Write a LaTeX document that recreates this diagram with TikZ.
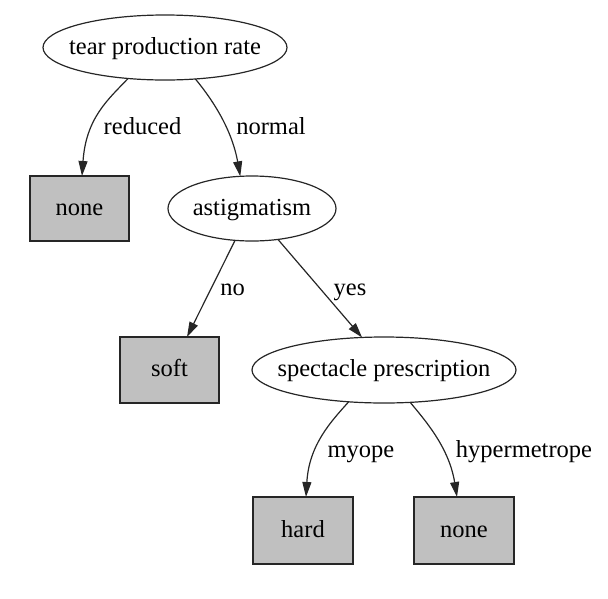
\documentclass[tikz,border=0pt]{standalone}
\usepackage{fontspec}
\setmainfont{Liberation Serif}
\usetikzlibrary{shapes.geometric,arrows.meta}
\definecolor{leafgray}{HTML}{C0C0C0}
\definecolor{edgeblack}{HTML}{262626}
\begin{document}
\begin{tikzpicture}[x=1pt,y=-1pt,
  every node/.style={font=\fontsize{24.5}{29}\selectfont, inner sep=0pt, outer sep=0pt},
  attr/.style={ellipse, draw=edgeblack, line width=1.2pt},
  attrtext/.style={text height=17pt, text depth=4pt},
  leaf/.style={rectangle, draw=edgeblack, fill=leafgray, line width=1.2pt, text height=17pt, text depth=4pt},
  edge/.style={draw=edgeblack, line width=1.2pt, -{Triangle[length=15pt,width=9pt]}},
  elabel/.style={anchor=base}
]
\useasboundingbox (0,0) rectangle (608,598);

\node[attr, minimum width=244pt, minimum height=65pt] (tpr) at (165,47.5) {};
\node[attrtext] (tprt) at (tpr.center) {tear production rate};
\node[leaf, minimum width=99pt, minimum height=65pt] (none1) at (79.5,208.5) {none};
\node[attr, minimum width=168pt, minimum height=65pt] (ast) at (252,208.5) {};
\node[attrtext] (astt) at (ast.center) {astigmatism};
\node[leaf, minimum width=99pt, minimum height=66pt] (soft) at (169.5,370) {soft};
\node[attr, minimum width=264pt, minimum height=66pt] (spec) at (384,370) {};
\node[attrtext] (spect) at (spec.center) {spectacle prescription};
\node[leaf, minimum width=100pt, minimum height=67pt] (hard) at (303,530.5) {hard};
\node[leaf, minimum width=100pt, minimum height=67pt] (none2) at (464,530.5) {none};

\path[edge] (tpr.220) .. controls +(-20,21) and +(4,-58) .. ([xshift=2.5pt]none1.north);
\path[edge] (tpr.-46) .. controls +(14,17) and +(-9,-50) .. (ast.110);
\path[edge] (ast.242) -- ([xshift=17.5pt]soft.north);
\path[edge] (ast.-50) -- (spec.124);
\path[edge] (spec.222) .. controls +(-18,20) and +(3,-52) .. ([xshift=3pt]hard.north);
\path[edge] (spec.-51) .. controls +(14,17) and +(-8,-50) .. ([xshift=-7pt]none2.north);

\node[elabel] (lred) at (142.5,134) {reduced};
\node[elabel] (lnor) at (271,134) {normal};
\node[elabel] (lno) at (232.5,295) {no};
\node[elabel] (lyes) at (350,295) {yes};
\node[elabel] (lmy) at (361,457) {myope};
\node[elabel] (lhy) at (524,457) {hypermetrope};
\end{tikzpicture}
\end{document}
